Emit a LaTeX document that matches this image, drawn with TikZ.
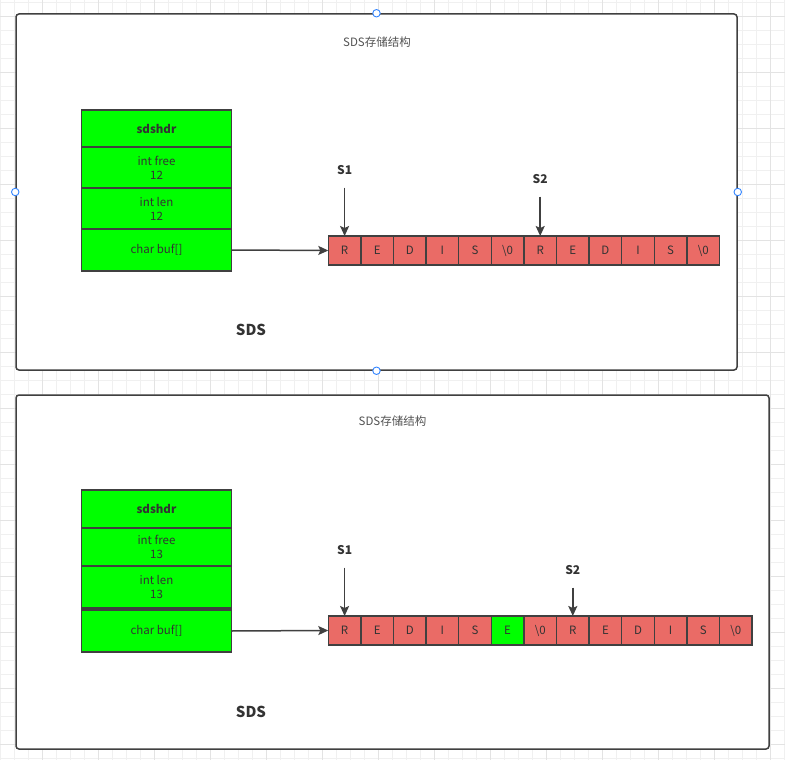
\documentclass[tikz,border=0pt]{standalone}
\usepackage{fontspec}
\setmainfont{Noto Sans CJK SC}
\usepackage {tikz}
\usetikzlibrary {positioning}
\usetikzlibrary{arrows.meta}
\definecolor{edge}{HTML}{404040}
\definecolor{txt}{HTML}{333333}
\definecolor{cellred}{HTML}{EA6B66}
\definecolor{hdrgreen}{HTML}{00FF00}
\definecolor{handleblue}{HTML}{3385FF}
\tikzset{
    gridminor/.style = {draw=black!6, line width=0.8pt},
    gridmajor/.style = {draw=black!11, line width=0.8pt},
    frame/.style = {rectangle, draw=edge, fill=white, line width=1.5pt, rounded corners=3pt, inner sep=0pt},
    handle/.style = {circle, draw=handleblue, fill=white, line width=0.9pt, minimum size=7.5pt, inner sep=0pt},
    title/.style = {text=txt!85, font=\fontsize{11.5}{13}\selectfont, inner sep=0pt},
    row/.style = {rectangle, draw=edge, fill=hdrgreen, line width=1.3pt, minimum width=150pt, inner sep=0pt, outer sep=0pt, align=center, text=txt, font=\fontsize{11.5}{14}\selectfont},
    cell/.style = {rectangle, draw=edge, fill=cellred, line width=1.3pt, minimum width=32.6pt, minimum height=29pt, inner sep=0pt, outer sep=0pt, text=txt, font=\fontsize{11.5}{13}\selectfont},
    ptrlabel/.style = {inner sep=0pt, text=txt, font=\fontsize{12}{14}\bfseries},
    biglabel/.style = {inner sep=0pt, text=txt, font=\fontsize{15}{17}\bfseries},
    ptr/.style = {draw=edge, line width=1.5pt, -{Stealth[length=10pt,width=9pt,inset=2pt]}}}

\begin{document}
\begin{tikzpicture}[x=1pt,y=-1pt]
        \useasboundingbox (0,0) rectangle (785,760);
        \draw[gridminor, xshift=0.7pt, yshift=-2.7pt] (-14,-14) grid[step=14pt] (800,770);
        \draw[gridmajor, xshift=42.7pt, yshift=-16.7pt] (-56,-56) grid[step=56pt] (800,800);

        \node[frame, minimum width=721pt, minimum height=356pt] (frameA) at (376.5,192) {};
        \node[title] (titleA) at (377,42) {SDS存储结构};
        \node[row, minimum height=37pt] (hdrA) at (156.5,128.5) {\bfseries sdshdr};
        \node[row, minimum height=41pt, below=0pt of hdrA] (freeA) {int free\\12};
        \node[row, minimum height=41pt, below=0pt of freeA] (lenA) {int len\\12};
        \node[row, minimum height=42pt, below=0pt of lenA] (bufA) {char buf[]};
        \foreach \l [count=\i] in {R,E,D,I,S,\textbackslash0,R,E,D,I,S,\textbackslash0}
            \node[cell] (a\i) at ({328.3+32.6*(\i-0.5)},250.5) {\l};
        \node[ptrlabel, above=61.5pt of a1] (s1A) {S1};
        \node[ptrlabel, above=52.5pt of a7] (s2A) {S2};
        \node[biglabel] (sdsA) at (251,330) {SDS};
        \draw[ptr] (bufA.east) -- (a1.west);
        \draw[ptr, shorten <=13pt] (s1A) -- (a1);
        \draw[ptr, shorten <=13pt] (s2A) -- (a7);
        \node[handle] (hA1) at (frameA.north) {};
        \node[handle] (hA2) at (frameA.west) {};
        \node[handle] (hA3) at (frameA.east) {};
        \node[handle] (hA4) at (frameA.south) {};

        \node[frame, minimum width=753pt, minimum height=354pt] (frameB) at (392.5,572) {};
        \node[title] (titleB) at (392.5,421) {SDS存储结构};
        \node[row, minimum height=38pt] (hdrB) at (156.5,509) {\bfseries sdshdr};
        \node[row, minimum height=38pt, below=0pt of hdrB] (freeB) {int free\\13};
        \node[row, minimum height=42pt, below=0pt of freeB] (lenB) {int len\\13};
        \node[row, minimum height=42pt, below=2pt of lenB] (bufB) {char buf[]};
        \foreach \l [count=\i] in {R,E,D,I,S,E,\textbackslash0,R,E,D,I,S,\textbackslash0}
            \node[cell] (b\i) at ({328.3+32.6*(\i-0.5)},630.5) {\l};
        \node[cell, fill=hdrgreen] at (b6) {E};
        \node[ptrlabel, above=61.5pt of b1] (s1B) {S1};
        \node[ptrlabel, above=41.5pt of b8] (s2B) {S2};
        \node[biglabel] (sdsB) at (251,712) {SDS};
        \draw[ptr] (bufB.east) -- (b1.west);
        \draw[ptr, shorten <=13pt] (s1B) -- (b1);
        \draw[ptr, shorten <=13pt] (s2B) -- (b8);
\end{tikzpicture}
\end{document}
